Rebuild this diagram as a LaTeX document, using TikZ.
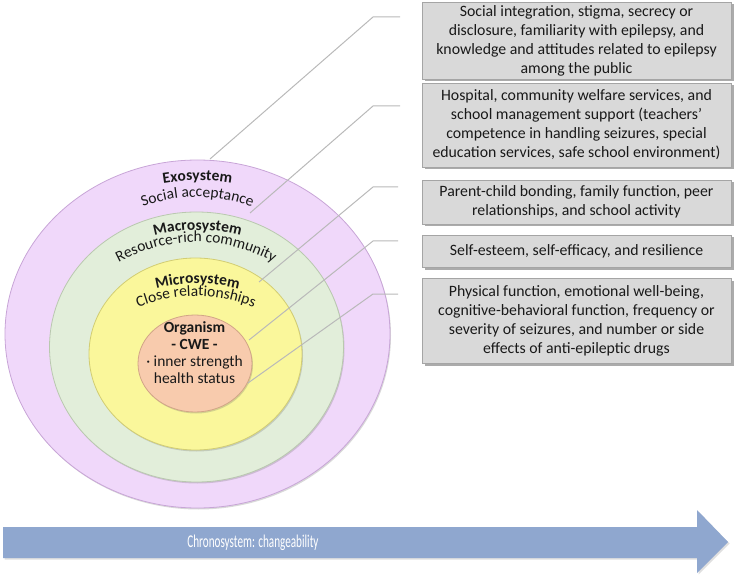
\documentclass[tikz,border=0pt]{standalone}
\usepackage{fontspec}
\usepackage{graphicx}
\setmainfont{Carlito}
\usetikzlibrary{shapes.geometric,decorations.text,shadows}
\definecolor{exoC}{RGB}{240,216,250}
\definecolor{exoB}{RGB}{200,165,215}
\definecolor{macC}{RGB}{226,238,218}
\definecolor{macB}{RGB}{185,200,175}
\definecolor{micC}{RGB}{250,247,155}
\definecolor{micB}{RGB}{210,205,115}
\definecolor{orgC}{RGB}{248,203,173}
\definecolor{orgB}{RGB}{210,165,135}
\definecolor{boxC}{RGB}{217,217,217}
\definecolor{boxB}{RGB}{165,165,165}
\definecolor{lineC}{RGB}{185,185,185}
\definecolor{arrC}{RGB}{143,167,207}
\definecolor{txt}{RGB}{25,25,25}
\newcommand\fs{\fontsize{15.5}{19}\selectfont}
\newcommand\bfs{\fontsize{15.8}{19}\selectfont}
\tikzset{
  ring/.style={ellipse, inner sep=0pt, line width=0.8pt,
    drop shadow={shadow xshift=1pt, shadow yshift=-1.5pt, opacity=.25, fill=black!60}},
  infobox/.style={draw=boxB, fill=boxC, line width=0.8pt, minimum width=309pt,
    align=center, inner sep=2pt, font=\bfs, text=txt,
    drop shadow={shadow xshift=2.5pt, shadow yshift=-2.5pt, fill=black!60, opacity=.55}},
  conn/.style={draw=lineC, line width=1pt},
  arctext/.style={decorate, decoration={text along path, text align=center, text={#1}}}
}
\begin{document}
\begin{tikzpicture}[x=1pt,y=-1pt]
\useasboundingbox (0,0) rectangle (737,575);

% rings
\node[ring, fill=exoC, draw=exoB, minimum width=385pt, minimum height=348pt] (exo) at (197.5,334) {};
\node[ring, fill=macC, draw=macB, minimum width=294pt, minimum height=270pt] (mac) at (196.5,347) {};
\node[ring, fill=micC, draw=micB, minimum width=213pt, minimum height=192pt] (mic) at (195.5,354) {};
\node[ring, fill=orgC, draw=orgB, minimum width=114pt, minimum height=97pt] (org) at (195,363.5) {};

% curved labels
\path[arctext={|\fs\bfseries\color{txt}|Exosystem}] (140,188.6) .. controls (178.3,177.8) and (216.7,177.8) .. (255,188.6);
\path[arctext={|\fs\color{txt}|Social acceptance}] (125,214.4) .. controls (173.3,191.2) and (221.7,191.2) .. (270,214.4);
\path[arctext={|\fs\bfseries\color{txt}|Macrosystem}] (130,244.2) .. controls (175,225.3) and (220,225.3) .. (265,244.2);
\path[arctext={|\fs\color{txt}|Resource-rich community}] (98,274.4) .. controls (163.3,231.2) and (228.7,231.2) .. (294,274.4);
\path[arctext={|\fs\bfseries\color{txt}|Microsystem}] (130,297.7) .. controls (175,278.8) and (220,278.8) .. (265,297.7);
\path[arctext={|\fs\color{txt}|Close relationships}] (108.5,321.5) .. controls (166.8,287.5) and (225.2,287.5) .. (283.5,321.5);

\node[align=center, text=txt, font=\fontsize{15.5}{17}\selectfont] (orgtext) at (194.5,353)
  {\textbf{Organism}\\\textbf{- CWE -}\\· inner strength\\health status};

% info boxes
\node[infobox, minimum height=77pt] (b1) at (576.5,40.5)
  {Social integration, stigma, secrecy or\\disclosure, familiarity with epilepsy, and\\knowledge and attitudes related to epilepsy\\among the public};
\node[infobox, minimum height=84pt] (b2) at (576.5,125)
  {Hospital, community welfare services, and\\school management support (teachers’\\competence in handling seizures, special\\education services, safe school environment)};
\node[infobox, minimum height=44pt] (b3) at (576.5,202)
  {Parent-child bonding, family function, peer\\relationships, and school activity};
\node[infobox, minimum height=32pt] (b4) at (576.5,251)
  {Self-esteem, self-efficacy, and resilience};
\node[infobox, minimum height=85pt] (b5) at (576.5,320.5)
  {Physical function, emotional well-being,\\cognitive-behavioral function, frequency or\\severity of seizures, and number or side\\effects of anti-epileptic drugs};

% connectors
\coordinate (c1) at (210,159);   \coordinate (k1) at (373,17);  \coordinate (e1) at (400,17);
\coordinate (c2) at (250,213);   \coordinate (k2) at (373,106); \coordinate (e2) at (400,106);
\coordinate (c3) at (259,282);   \coordinate (k3) at (373,187); \coordinate (e3) at (398,187);
\coordinate (c4) at (249,340);   \coordinate (k4) at (373,241); \coordinate (e4) at (398,241);
\coordinate (c5) at (248,383);   \coordinate (k5) at (373,294); \coordinate (e5) at (398,294);
\foreach \i in {1,...,5} { \draw[conn] (c\i) -- (k\i) -- (e\i); }

% chronosystem arrow
\fill[arrC, drop shadow={shadow xshift=1.5pt, shadow yshift=-1.5pt, opacity=.25, fill=black!50}]
  (3,527) -- (697,527) -- (697,510) -- (728,542) -- (697,573) -- (697,558) -- (3,558) -- cycle;
\node[text=white, font=\fontsize{18}{20}\selectfont] (chrono) at (253,543)
  {\scalebox{0.62}[1]{Chronosystem: changeability}};
\end{tikzpicture}
\end{document}
